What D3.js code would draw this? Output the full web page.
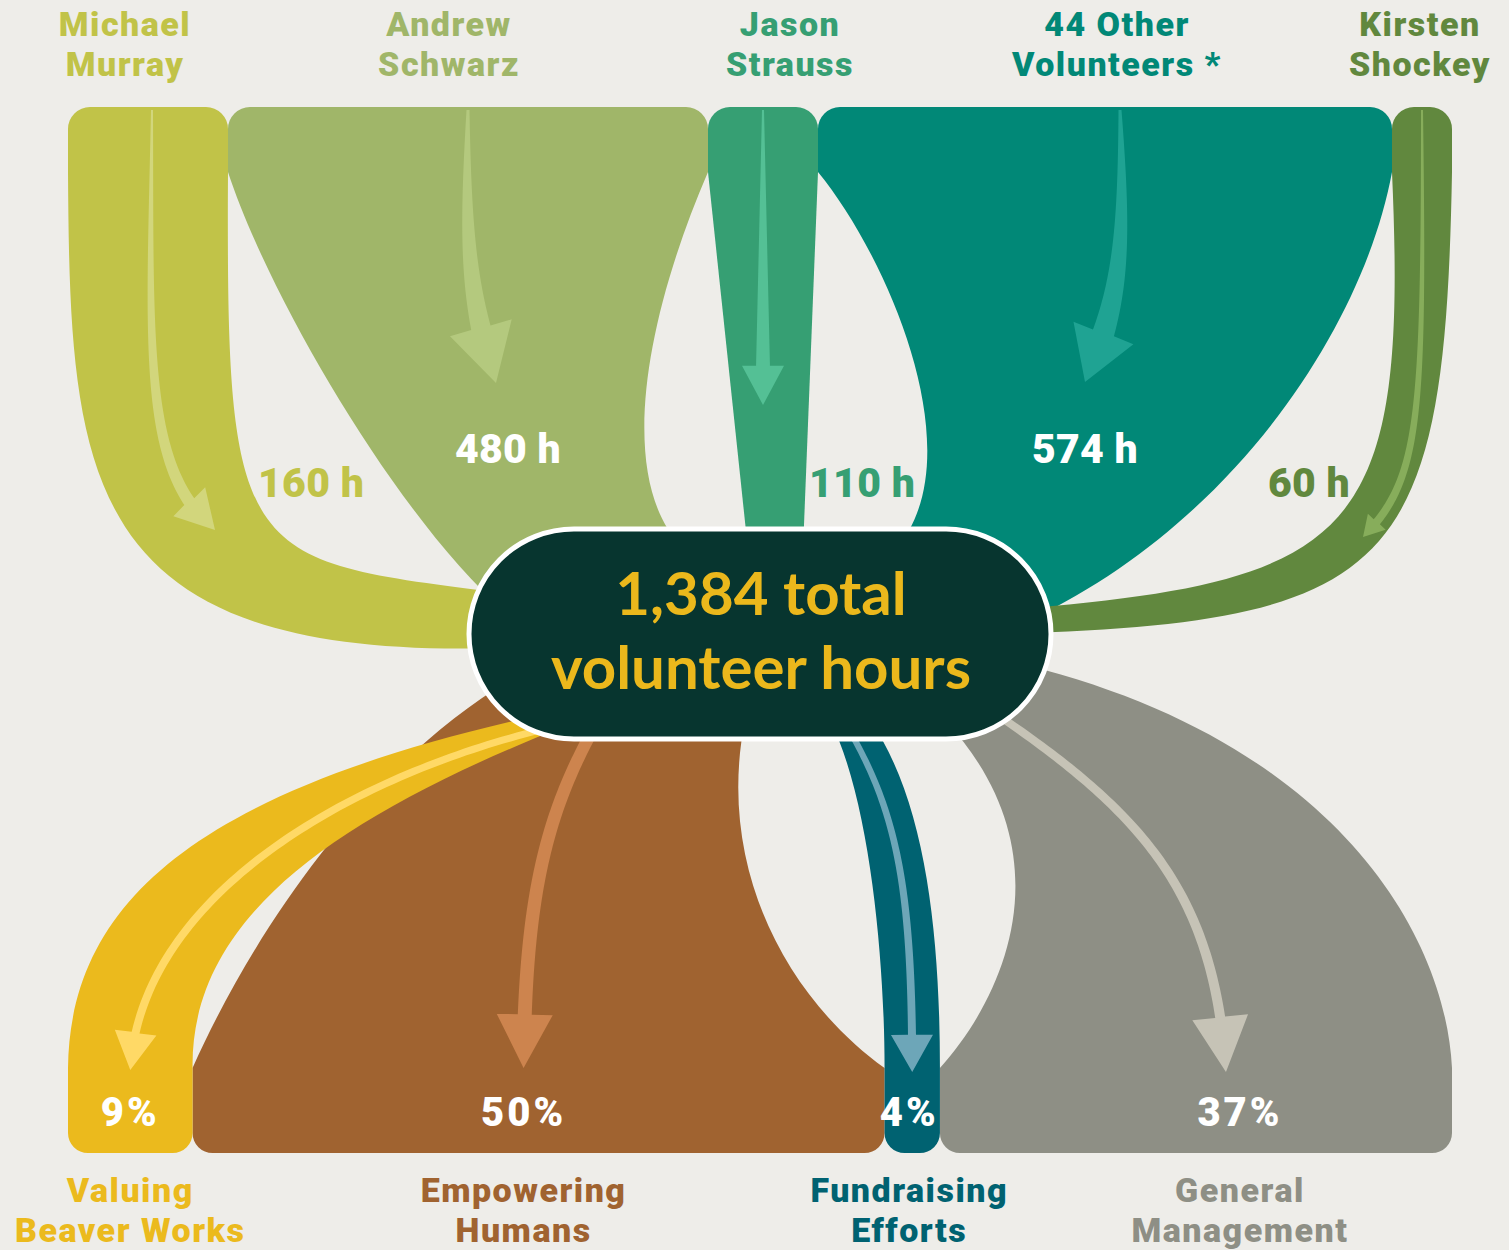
<!DOCTYPE html>
<html>
<head>
<meta charset="utf-8">
<script src="https://cdn.jsdelivr.net/npm/d3@7"></script>
<style>
  html, body { margin: 0; padding: 0; background: #eeede9; }
  svg { display: block; }
</style>
</head>
<body>
<svg id="chart" width="1509" height="1250"></svg>
<script>
// ---- data ----
const volunteerLines = [["Michael", "Murray"], ["Andrew", "Schwarz"], ["Jason", "Strauss"], ["44 Other", "Volunteers *"], ["Kirsten", "Shockey"]];
const volunteerHours = [160, 480, 110, 574, 60];
const areaLines = [["Valuing", "Beaver Works"], ["Empowering", "Humans"], ["Fundraising", "Efforts"], ["General", "Management"]];
const areaShares = [9, 50, 4, 37];

const volunteerColors = ["#c1c348", "#a0b669", "#369f73", "#018877", "#61883e"];
const volunteerArrowColors = ["#d2d67c", "#b4c97e", "#54c095", "#1fa393", "#87ad5b"];
const areaColors = ["#ebba1d", "#a06330", "#006271", "#8e8f85"];
const areaArrowColors = ["#ffd966", "#cd844e", "#6da6b8", "#c6c3b6"];

// ---- layout ----
const svg = d3.select("#chart");
const total = d3.sum(volunteerHours);
const x = d3.scaleLinear().domain([0, total]).range([68, 1452]);
const xs = d3.scaleLinear().domain([0, 100]).range([68, 1452]);
const Y = { barTop: 107, flowTop: 172, flowBottom: 1068, barBottom: 1153 };
const pill = { cx: 760, cy: 634, w: 582, h: 210 };
const labelFont = "Roboto, sans-serif";

const topEdges = d3.cumsum([0, ...volunteerHours]);
const botEdges = d3.cumsum([0, ...areaShares]);

// edge curves (control points) for each band, given its bar edges a,b
const topShapes = [
  (a, b) => ({ L: [[a + 2, 480], [80, 660], [500, 648]], R: [[b - 2, 560], [240, 560], [495, 592]] }),
  (a, b) => ({ L: [[a + 42, 300], [400, 520], [505, 612]], R: [[b - 68, 330], [620, 480], [680, 545]] }),
  (a, b) => ({ L: [[a, Y.flowTop], [748, 550], [748, 550]], R: [[b, Y.flowTop], [803, 550], [803, 550]] }),
  (a, b) => ({ L: [[a + 72, 260], [975, 460], [895, 550]], R: [[b - 27, 320], [1240, 520], [1030, 620]] }),
  (a, b) => ({ L: [[a + 16, 530], [1360, 580], [1030, 608]], R: [[b - 7, 560], [1400, 620], [1030, 633]] })
];
const topArrows = [
  c => ({ P: [[c + 4, 110], [c + 2, 350], [c - 6, 470], [215, 530]], w: [2, 12], head: [37, 43] }),
  c => ({ P: [[c, 110], [c - 3, 250], [c + 2, 300], [c + 28, 383]], w: [3, 20], head: [55, 64] }),
  c => ({ P: [[c, 110], [c, 200], [c, 300], [c, 405]], w: [2, 14], head: [37, 42] }),
  c => ({ P: [[c + 15, 110], [c + 20, 250], [c + 15, 300], [c - 20, 382]], w: [3, 22], head: [52, 64] }),
  c => ({ P: [[c, 110], [c + 2, 420], [c - 2, 480], [c - 59, 537]], w: [2, 8], head: [18, 24] })
];
const hourLabelAt = [
  (a, b, t) => ({ x: b + 30, y: 497, anchor: "start", inside: false }),
  (a, b, t) => ({ x: t + 12, y: 463, anchor: "middle", inside: true }),
  (a, b, t) => ({ x: b - 9, y: 497, anchor: "start", inside: false }),
  (a, b, t) => ({ x: t, y: 463, anchor: "middle", inside: true }),
  (a, b, t) => ({ x: a - 42, y: 497, anchor: "end", inside: false })
];
const topLabelNudge = [-23, -19, 27, 12, -2];

const botShapes = [
  (a, b) => ({ L: [[a + 2, 900], [200, 790], [540, 715]], R: [[b - 2, 920], [330, 820], [560, 728]] }),
  (a, b) => ({ L: [[a + 57, 940], [360, 770], [510, 680]], R: [[b - 95, 1000], [715, 870], [745, 720]] }),
  (a, b) => ({ L: [[a, 960], [870, 800], [830, 720]], R: [[b, 930], [925, 800], [870, 720]] }),
  (a, b) => ({ L: [[a + 70, 990], [1065, 850], [945, 720]], R: [[b - 7, 930], [1330, 740], [1025, 665]] })
];
const botArrows = [
  c => ({ P: [[540, 730], [340, 780], [140, 900], [c, 1070]], w: [7, 8], head: [34, 42] }),
  c => ({ P: [[590, 735], [545, 820], [525, 900], [c - 15, 1068]], w: [12, 14], head: [48, 56] }),
  c => ({ P: [[852, 735], [900, 820], [912, 900], [c, 1072]], w: [6, 8], head: [36, 42] }),
  c => ({ P: [[1005, 720], [1150, 820], [1215, 900], [c + 30, 1072]], w: [8, 10], head: [52, 56] })
];
const areaLabelNudge = [0, 0, -3, 14];

// ---- helpers ----
function topBand(a, b, s, r) {
  const p = d3.path();
  p.moveTo(a, Y.flowTop);
  p.bezierCurveTo(...s.L[0], ...s.L[1], ...s.L[2]);
  p.lineTo(...s.R[2]);
  p.bezierCurveTo(...s.R[1], ...s.R[0], b, Y.flowTop);
  p.lineTo(b, Y.barTop + r);
  p.arcTo(b, Y.barTop, b - r, Y.barTop, r);
  p.lineTo(a + r, Y.barTop);
  p.arcTo(a, Y.barTop, a, Y.barTop + r, r);
  p.closePath();
  return p.toString();
}

function botBand(a, b, s, r) {
  const p = d3.path();
  p.moveTo(a, Y.flowBottom);
  p.bezierCurveTo(...s.L[0], ...s.L[1], ...s.L[2]);
  p.lineTo(...s.R[2]);
  p.bezierCurveTo(...s.R[1], ...s.R[0], b, Y.flowBottom);
  p.lineTo(b, Y.barBottom - r);
  p.arcTo(b, Y.barBottom, b - r, Y.barBottom, r);
  p.lineTo(a + r, Y.barBottom);
  p.arcTo(a, Y.barBottom, a, Y.barBottom - r, r);
  p.closePath();
  return p.toString();
}

function bez(P, t) {
  const u = 1 - t;
  return [0, 1].map(k => u * u * u * P[0][k] + 3 * u * u * t * P[1][k] + 3 * u * t * t * P[2][k] + t * t * t * P[3][k]);
}

// tapered shaft along a cubic, with a triangle head at the end
function arrowPath(spec) {
  const P = spec.P, [w0, w1] = spec.w, [headLen, headW] = spec.head;
  const N = 80;
  const pts = d3.range(N + 1).map(i => bez(P, i / N));
  const len = [0];
  for (let i = 1; i <= N; i++) len.push(len[i - 1] + Math.hypot(pts[i][0] - pts[i - 1][0], pts[i][1] - pts[i - 1][1]));
  const stop = len[N] - headLen;
  let k = 0;
  while (k < N && len[k + 1] <= stop) k++;
  const left = [], right = [];
  for (let i = 0; i <= k; i++) {
    const p0 = pts[Math.max(0, i - 1)], p1 = pts[Math.min(N, i + 1)];
    const dx = p1[0] - p0[0], dy = p1[1] - p0[1], d = Math.hypot(dx, dy);
    const w = (w0 + (w1 - w0) * len[i] / stop) / 2;
    left.push([pts[i][0] - dy / d * w, pts[i][1] + dx / d * w]);
    right.push([pts[i][0] + dy / d * w, pts[i][1] - dx / d * w]);
  }
  const base = pts[k], tip = pts[N];
  const dx = tip[0] - base[0], dy = tip[1] - base[1], d = Math.hypot(dx, dy);
  const h = headW / 2;
  const poly = [...left,
    [base[0] - dy / d * h, base[1] + dx / d * h],
    tip,
    [base[0] + dy / d * h, base[1] - dx / d * h],
    ...right.reverse()];
  return d3.line()(poly) + "Z";
}

// ---- top (volunteer) bands ----
const tops = volunteerHours.map((h, i) => {
  const a = x(topEdges[i]), b = x(topEdges[i + 1]);
  return { i, h, a, b, c: (a + b) / 2 };
});

const gTop = svg.append("g");
gTop.selectAll("path.band")
  .data(tops)
  .join("path")
  .attr("class", "band")
  .attr("d", d => topBand(d.a, d.b, topShapes[d.i](d.a, d.b), Math.min(22, (d.b - d.a) / 2)))
  .attr("fill", d => volunteerColors[d.i]);

gTop.selectAll("path.arrow")
  .data(tops)
  .join("path")
  .attr("class", "arrow")
  .attr("d", d => arrowPath(topArrows[d.i](d.c)))
  .attr("fill", d => volunteerArrowColors[d.i]);

// ---- bottom (area) bands ----
const bots = areaShares.map((s, i) => {
  const a = xs(botEdges[i]), b = xs(botEdges[i + 1]);
  return { i, s, a, b, c: (a + b) / 2 };
});
const botOrder = [1, 3, 2, 0];

const gBot = svg.append("g");
gBot.selectAll("path.band")
  .data(botOrder.map(k => bots[k]))
  .join("path")
  .attr("class", "band")
  .attr("d", d => botBand(d.a, d.b, botShapes[d.i](d.a, d.b), Math.min(20, (d.b - d.a) / 2)))
  .attr("fill", d => areaColors[d.i]);

gBot.selectAll("path.arrow")
  .data(botOrder.map(k => bots[k]))
  .join("path")
  .attr("class", "arrow")
  .attr("d", d => arrowPath(botArrows[d.i](d.c)))
  .attr("fill", d => areaArrowColors[d.i]);

// ---- centre pill ----
svg.append("rect")
  .attr("x", pill.cx - pill.w / 2)
  .attr("y", pill.cy - pill.h / 2)
  .attr("width", pill.w)
  .attr("height", pill.h)
  .attr("rx", pill.h / 2)
  .attr("fill", "#07352f")
  .attr("stroke", "#ffffff")
  .attr("stroke-width", 5);

const pillText = svg.append("text")
  .attr("text-anchor", "middle")
  .attr("fill", "#ebb81c")
  .style("font-family", "Lato, sans-serif")
  .style("font-weight", 700)
  .style("font-size", "60px");
pillText.append("tspan").attr("x", pill.cx + 1).attr("y", pill.cy - 19).text(`${d3.format(",")(total)} total`);
pillText.append("tspan").attr("x", pill.cx + 1).attr("y", pill.cy + 55).text("volunteer hours");

// ---- labels ----
svg.append("g").selectAll("text")
  .data(tops.flatMap(d => volunteerLines[d.i].map((t, k) => ({ t, k, c: d.c + topLabelNudge[d.i], i: d.i }))))
  .join("text")
  .attr("x", d => d.c)
  .attr("y", d => 36 + d.k * 40)
  .attr("text-anchor", "middle")
  .attr("fill", d => volunteerColors[d.i])
  .style("font-family", labelFont)
  .style("font-weight", 900)
  .style("font-size", "34px")
  .style("letter-spacing", "1.5px")
  .text(d => d.t);

svg.append("g").selectAll("text")
  .data(tops)
  .join("text")
  .each(function (d) {
    const tip = topArrows[d.i](d.c).P[3][0];
    const pos = hourLabelAt[d.i](d.a, d.b, tip);
    d3.select(this)
      .attr("x", pos.x)
      .attr("y", pos.y)
      .attr("text-anchor", pos.anchor)
      .attr("fill", pos.inside ? "#ffffff" : volunteerColors[d.i]);
  })
  .style("font-family", labelFont)
  .style("font-weight", 900)
  .style("font-size", "41px")
  .style("letter-spacing", "0.3px")
  .text(d => `${d.h} h`);

svg.append("g").selectAll("text")
  .data(bots)
  .join("text")
  .attr("x", d => botArrows[d.i](d.c).P[3][0] + areaLabelNudge[d.i])
  .attr("y", 1126)
  .attr("text-anchor", "middle")
  .attr("fill", "#ffffff")
  .style("font-family", labelFont)
  .style("font-weight", 900)
  .style("font-size", "40px")
  .style("letter-spacing", "3px")
  .text(d => `${d.s}%`);

svg.append("g").selectAll("text")
  .data(bots.flatMap(d => areaLines[d.i].map((t, k) => ({ t, k, c: botArrows[d.i](d.c).P[3][0] + areaLabelNudge[d.i], i: d.i }))))
  .join("text")
  .attr("x", d => d.c)
  .attr("y", d => 1202 + d.k * 40)
  .attr("text-anchor", "middle")
  .attr("fill", d => areaColors[d.i])
  .style("font-family", labelFont)
  .style("font-weight", 900)
  .style("font-size", "34px")
  .style("letter-spacing", "1.5px")
  .text(d => d.t);
</script>
</body>
</html>
